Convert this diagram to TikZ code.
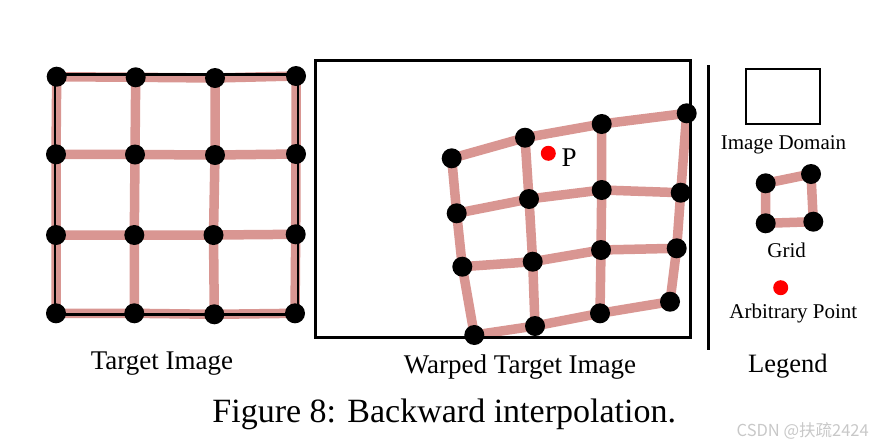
\documentclass[tikz,border=0pt]{standalone}
\usepackage{fontspec}
\setmainfont{Liberation Serif}
\newfontfamily\cjkfont{Noto Sans CJK SC}
\definecolor{gridpink}{RGB}{217,150,146}
\definecolor{wmgrey}{RGB}{200,200,200}
\pgfdeclarelayer{pinklayer}
\pgfdeclarelayer{framelayer}
\pgfsetlayers{pinklayer,framelayer,main}
\begin{document}
\begin{tikzpicture}[x=1pt,y=-1pt,
  dot/.style={circle,fill=black,inner sep=0pt,minimum size=20pt},
  reddot/.style={circle,fill=red,inner sep=0pt,minimum size=15pt},
  gridline/.style={draw=gridpink,line width=9.5pt,line join=round},
  frame/.style={draw=black,line width=2.6pt},
  lbl/.style={inner sep=0pt,anchor=base},
]
\useasboundingbox (0,0) rectangle (875,445);

% ---- left grid (target image)
\foreach \n/\x/\y in {L11/56.7/76.7, L12/135.7/77.3, L13/215/78, L14/296/76,
                      L21/56/154.3, L22/135/154.5, L23/215/155, L24/296/154,
                      L31/56/235, L32/134.3/235, L33/213.5/235, L34/295.7/234.3,
                      L41/56/313.3, L42/134.3/313.3, L43/214.3/314.3, L44/295/313.3}
  \node[dot] (\n) at (\x,\y) {};

% ---- warped grid
\foreach \n/\x/\y in {W11/451.7/158.3, W12/525/137.7, W13/601.7/124, W14/686.7/113.3,
                      W21/456.7/213.3, W22/529/199, W23/601.7/190, W24/680.7/192.7,
                      W31/462.3/266.7, W32/532.7/261.7, W33/601/250, W34/676.7/248.3,
                      W41/474.3/335, W42/535/326, W43/600/313.3, W44/670/301.7}
  \node[dot] (\n) at (\x,\y) {};

% ---- legend grid
\node[dot] (G1) at (765.7,183.3) {};
\node[dot] (G2) at (811,174) {};
\node[dot] (G3) at (813.3,221.7) {};
\node[dot] (G4) at (765.7,223.3) {};

% ---- red points
\node[reddot] (pt) at (548.3,153.3) {};
\node[reddot] (legpt) at (780.7,287.7) {};

\begin{pgfonlayer}{pinklayer}
  \foreach \g in {L,W}{
    \foreach \r in {1,...,4}{
      \draw[gridline] (\g\r1.center) -- (\g\r2.center) -- (\g\r3.center) -- (\g\r4.center);
      \draw[gridline] (\g1\r.center) -- (\g2\r.center) -- (\g3\r.center) -- (\g4\r.center);
    }
  }
  \draw[gridline] (G1.center) -- (G2.center) -- (G3.center) -- (G4.center) -- cycle;
\end{pgfonlayer}

\begin{pgfonlayer}{framelayer}
  \draw[frame,line width=2.4pt] (55,74.5) rectangle (298,314.5);
  \draw[frame] (315.3,60.7) rectangle (690.7,337.3);
  \draw[frame] (746,69) rectangle (820,124);
  \coordinate (septop) at (708.3,65);
  \coordinate (sepbot) at (708.3,350);
  \draw[frame] (septop) -- (sepbot);
\end{pgfonlayer}

% ---- texts
\node[lbl,anchor=base west] (plbl) at (561.5,166) {\fontsize{27}{30}\selectfont P};
\node[lbl] (tgt) at (162,369.3) {\fontsize{27}{30}\selectfont Target Image};
\node[lbl] (wtgt) at (520,373.3) {\fontsize{27}{30}\selectfont Warped Target Image};
\node[lbl] (imd) at (783.5,149.3) {\fontsize{21}{24}\selectfont Image Domain};
\node[lbl] (gridlbl) at (786.7,257) {\fontsize{21}{24}\selectfont Grid};
\node[lbl] (arb) at (793.3,318.3) {\fontsize{21}{24}\selectfont Arbitrary Point};
\node[lbl] (leg) at (787.8,372) {\fontsize{26.5}{30}\selectfont Legend};
\node[lbl] (cap) at (444.2,422.3) {\fontsize{34}{38}\selectfont Figure 8: Backward interpolation.};
\node[lbl,anchor=base east,text=wmgrey] (wm) at (869,436) {\cjkfont\fontsize{16.5}{19}\selectfont CSDN @扶疏2424};
\end{tikzpicture}
\end{document}
